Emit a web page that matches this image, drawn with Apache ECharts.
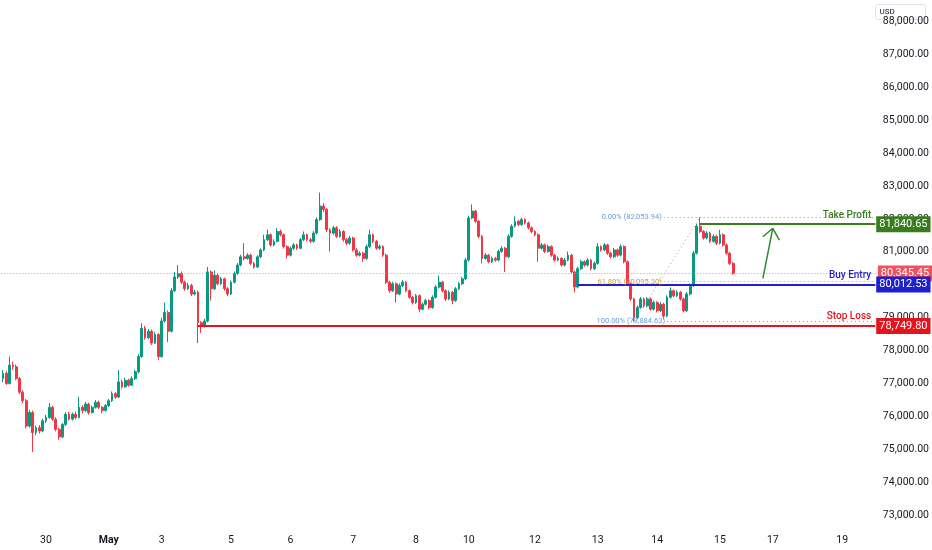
<!DOCTYPE html>
<html><head><meta charset="utf-8">
<script src="https://cdn.jsdelivr.net/npm/echarts@6/dist/echarts.min.js"></script>
<style>html,body{margin:0;padding:0;background:#fff}#c{width:932px;height:550px}</style>
</head><body><div id="c"></div>
<script>
const firstOpen = 77150;
const closes = [
77310,77000,77560,77510,77150,76740,76480,75710,76120,75510,
75660,75560,75870,75970,76280,75920,75610,75380,75760,76070,
75920,76070,75970,76280,76180,76380,76120,76280,76430,76280,
76180,76330,76480,76690,76590,77050,76900,77100,76950,77150,
77360,77820,78680,78390,78590,78230,78490,77820,78900,79160,
78590,79820,80240,80340,80080,79880,79980,79720,79770,78850,
78750,78900,80390,79880,80290,80030,80180,79880,79720,80080,
80340,80600,80850,80800,80900,80650,80540,80850,81060,81370,
81520,81210,81320,81620,81520,81160,80900,81110,81210,81110,
81370,81520,81370,81320,81570,81980,82390,82290,81670,81570,
81730,81470,81620,81370,81260,81420,81060,80900,80960,80800,
81160,81520,81320,81110,81160,80900,80080,79820,80030,79720,
79980,80080,79820,79620,79460,79670,79260,79410,79520,79310,
79620,79930,80080,79820,79570,79770,79520,79880,80030,80180,
80750,82030,82240,81930,81470,80800,80900,80700,80800,80750,
81010,81110,80850,81470,81780,81930,81830,81980,81880,81730,
81620,81520,81110,81210,81010,81160,80900,80750,80800,80600,
80750,80900,80390,79930,80490,80700,80600,80750,80490,80650,
81160,81060,81210,80960,80850,81060,80900,81160,80700,80030,
79570,79000,79310,79570,79360,79570,79260,79460,79210,79410,
79050,79620,79820,79670,79770,79570,79210,79720,79980,80960,
81780,81620,81420,81570,81320,81470,81260,81520,81210,80960,
80650,80345.45
];
const lows = [
77050,76960,76970,77420,77100,76680,76400,75640,75660,74920,
75430,75480,75520,75800,75930,75870,75550,75290,75340,75710,
75880,75880,75910,75940,76100,76140,76060,76090,76240,76230,
76100,76150,76290,76440,76530,76560,76850,76870,76900,76920,
77110,77310,77780,78330,78350,78170,78200,77720,77790,78850,
78260,78550,79780,80180,80020,79820,79840,79660,79680,78230,
78540,78700,78860,79520,79840,79980,79990,79820,79650,79690,
80040,80300,80560,80740,80760,80600,80490,80510,80810,81020,
81330,81160,81170,81290,81470,81100,80800,80860,81060,81060,
81070,81330,81320,81260,81280,81530,81940,82210,81600,81010,
81520,81420,81430,81310,81200,81220,81010,80850,80860,80700,
80760,81120,81270,81060,81060,80850,80020,79760,79780,79460,
79680,79930,79770,79570,79400,79420,79160,79220,79370,79260,
79270,79580,79890,79770,79510,79530,79410,79480,79840,79990,
80140,80710,81990,81880,81420,80650,80760,80650,80660,80700,
80710,80970,80390,80810,81430,81740,81780,81790,81830,81680,
81570,81470,80700,81070,80960,80970,80850,80700,80710,80550,
80560,80710,80340,79770,79890,80450,80550,80560,80440,80450,
80610,81010,81020,80910,80800,80810,80850,80860,80650,79970,
79510,78884.63,78960,79270,79310,79320,79210,79220,79160,79170,
78950,79010,79580,79620,79630,79520,79160,79170,79680,79940,
80920,81570,81370,81380,81270,81280,81210,81220,81160,80910,
80600,80300
];
const highs = [
77410,77380,77820,77670,77580,77200,76800,76530,76200,76180,
75720,75740,75930,76050,76410,76330,75980,75660,75800,76130,
76140,76120,76150,76600,76350,76440,76420,76330,76500,76480,
76320,76380,76530,76760,76740,77410,77120,77180,77150,77220,
77420,77900,78830,78750,78660,78640,78560,78530,79000,79460,
79220,79900,80390,80600,80400,80130,80060,80030,79850,79820,
78900,78970,80540,80430,80440,80330,80240,80220,79930,80130,
80400,80660,80910,81260,80960,80950,80700,80900,81110,81520,
81670,81560,81380,81720,81680,81560,81200,81160,81270,81250,
81420,81620,81560,81420,81630,82050,82800,82480,82330,81720,
81790,81780,81680,81660,81420,81480,81460,81110,81020,81000,
81220,81670,81560,81360,81220,81200,80940,80120,80090,80070,
80040,80140,80120,79860,79660,79720,79710,79460,79580,79560,
79680,79990,80280,80120,79860,79830,79810,79930,80090,80240,
80820,82100,82440,82280,81970,81510,80960,80940,80860,80840,
81070,81170,81150,81530,81840,82080,81970,82040,82020,81920,
81770,81660,81560,81270,81250,81220,81200,80940,80860,80840,
80810,81010,80940,80430,80550,80760,80740,80810,80790,80710,
81260,81200,81270,81250,81000,81120,81100,81220,81200,80740,
80070,79610,79370,79630,79610,79630,79610,79520,79500,79470,
79450,79680,79920,79860,79830,79810,79610,79780,80040,81020,
81850,82053.94,81660,81630,81610,81530,81510,81670,81560,81250,
81000,80690
];
// time axis: total slots (candles + empty space on the right) and day labels
const totalSlots = 265;
const dayLabels = ['30','May','3','5','6','7','8','10','12','13','14','15','17','19'];
const dayLabelIdx = [13,32,48,69,87,106,125,141,161,180,198,217,233,254];
const priceTicks = [73000,74000,75000,76000,77000,78000,79000,80000,81000,82000,83000,84000,85000,86000,87000,88000];
// trade levels
const takeProfit = 81840.65, buyEntry = 80012.53, stopLoss = 78749.80;
const tpStart = 211, beStart = 174, slStart = 59;
// fibonacci
const fibHigh = 82053.94, fibMid = 80095.30, fibLow = 78884.63;
const fibHighIdx = 211, fibLowIdx = 191, fibLabelIdx = 200;
// arrow annotation [index, price]
const arrowTail = [230, 80197], arrowTip = [233, 81716], arrowL = [230, 81460], arrowR = [235, 81360];

const lastClose = closes[closes.length - 1];
const fmt = v => v.toLocaleString('en-US', {minimumFractionDigits: 2, maximumFractionDigits: 2});
const cats = new Array(totalSlots).fill('');
dayLabelIdx.forEach((k, j) => { cats[k] = dayLabels[j]; });
const candles = closes.map((c, i) => [i === 0 ? firstOpen : closes[i - 1], c, lows[i], highs[i]]);
const lastIdx = totalSlots - 1;
const FONT = 'Roboto';

function seg(a, b, line, label) {
  return [{coord: a, lineStyle: line, label: label || {show: false}}, {coord: b}];
}
function boxLabel(v, bg) {
  return {show: true, position: 'end', distance: 1, formatter: fmt(v), backgroundColor: bg, color: '#fff',
          fontSize: 11, fontFamily: FONT, padding: [2, 3, 2, 3], lineHeight: 12};
}
function tagLabel(txt, col) {
  return {show: true, position: 'insideEndTop', distance: 4, formatter: txt, color: col, fontSize: 10,
          fontFamily: FONT, fontWeight: 500};
}
function fibLabel(txt, col) {
  return {show: true, position: 'start', distance: 2, formatter: txt, color: col, fontSize: 7.5, fontFamily: FONT};
}
const green = '#3a7d1f', blue = '#1f1fcc', red = '#e3141b';
const dotGray = {color: '#9598a1', type: [1, 3], width: 1};
const arrowLine = {color: '#2e8a2a', width: 1.5, type: 'solid'};

const chart = echarts.init(document.getElementById('c'), null, {renderer: 'canvas'});
chart.setOption({
  animation: false,
  backgroundColor: '#ffffff',
  grid: {left: 0, right: 55, top: 0, bottom: 25},
  xAxis: {
    type: 'category', data: cats, boundaryGap: true,
    axisLine: {show: false}, axisTick: {show: false}, splitLine: {show: false},
    axisLabel: {interval: 0, margin: 10, color: '#131722', fontSize: 10.5, fontFamily: FONT,
      formatter: v => v === 'May' ? '{b|May}' : v,
      rich: {b: {fontWeight: 'bold', fontSize: 10.5, color: '#131722', fontFamily: FONT}}}
  },
  yAxis: {
    type: 'value', position: 'right', min: 72705, max: 88649, scale: true,
    axisLine: {show: false}, axisTick: {show: false}, splitLine: {show: false},
    axisLabel: {customValues: priceTicks, formatter: v => fmt(v), color: '#131722', fontSize: 10.5,
      fontFamily: FONT, margin: 6}
  },
  graphic: [{
    type: 'group', right: 6, top: 4, z: 100,
    children: [
      {type: 'rect', shape: {x: 0, y: 0, width: 50, height: 15, r: 2},
       style: {fill: '#ffffff', stroke: '#e0e3eb', lineWidth: 1}},
      {type: 'text', x: 4, y: 3, style: {text: 'USD', fill: '#131722', fontSize: 8, fontFamily: FONT}}
    ]
  }],
  series: [{
    type: 'candlestick', data: candles, barWidth: '70%',
    itemStyle: {color: '#089981', color0: '#f23645', borderColor: '#089981', borderColor0: '#f23645', borderWidth: 1},
    markLine: {
      symbol: 'none', silent: true, animation: false,
      data: [
        {yAxis: lastClose, lineStyle: {color: '#f7848e', type: [1, 2], width: 1}, label: boxLabel(lastClose, '#f4515f')},
        seg([fibLowIdx, fibLow], [fibHighIdx, fibHigh], dotGray),
        seg([fibLabelIdx, fibHigh], [lastIdx, fibHigh], dotGray, fibLabel('0.00% (' + fmt(fibHigh) + ')', '#6a9ed8')),
        seg([fibLabelIdx, fibMid], [lastIdx, fibMid], {color: '#e0a825', type: [1, 3], width: 1}, fibLabel('61.80% (' + fmt(fibMid) + ')', '#d6a21e')),
        seg([fibLabelIdx + 1, fibLow], [lastIdx, fibLow], dotGray, fibLabel('100.00% (' + fmt(fibLow) + ')', '#6a9ed8')),
        seg([slStart, stopLoss], [lastIdx, stopLoss], {color: red, width: 2, type: 'solid'}, boxLabel(stopLoss, red)),
        seg([slStart, stopLoss], [lastIdx, stopLoss], {color: red, width: 2, type: 'solid'}, tagLabel('Stop Loss', red)),
        seg([beStart, buyEntry], [lastIdx, buyEntry], {color: blue, width: 2, type: 'solid'}, boxLabel(buyEntry, blue)),
        seg([beStart, buyEntry], [lastIdx, buyEntry], {color: blue, width: 2, type: 'solid'}, tagLabel('Buy Entry', blue)),
        seg([tpStart, takeProfit], [lastIdx, takeProfit], {color: green, width: 2, type: 'solid'}, boxLabel(takeProfit, green)),
        seg([tpStart, takeProfit], [lastIdx, takeProfit], {color: green, width: 2, type: 'solid'}, tagLabel('Take Profit', green)),
        seg(arrowTail, arrowTip, arrowLine),
        seg(arrowL, arrowTip, arrowLine),
        seg(arrowTip, arrowR, arrowLine)
      ]
    }
  }]
});
</script></body></html>
